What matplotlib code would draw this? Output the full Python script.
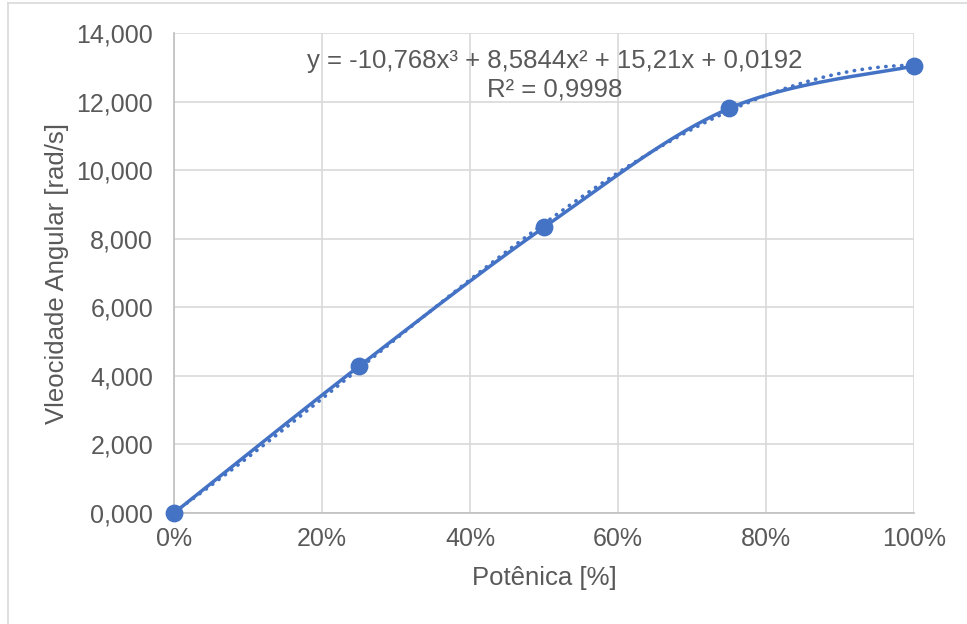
import numpy as np
import matplotlib.pyplot as plt
from matplotlib.ticker import FuncFormatter

potencia = [0.0, 0.25, 0.50, 0.75, 1.00]
velocidade = [0.0, 4.28, 8.33, 11.80, 13.04]
eq_label = "y = -10,768x³ + 8,5844x² + 15,21x + 0,0192"
r2_label = "R² = 0,9998"

plt.rcParams['font.family'] = ['Liberation Sans', 'DejaVu Sans']
blue = "#4472C4"
grey = "#595959"


def smooth(xs, ys, n=40):
    # excel-like smoothed line (catmull-rom through the points)
    xs, ys = np.asarray(xs), np.asarray(ys)
    px = np.concatenate([[xs[0]], xs, [xs[-1]]])
    py = np.concatenate([[ys[0]], ys, [ys[-1]]])
    out_x, out_y = [], []
    t = np.linspace(0, 1, n)
    for i in range(1, len(px) - 2):
        p0, p1, p2, p3 = [np.array([px[j], py[j]]) for j in (i - 1, i, i + 1, i + 2)]
        c1 = p1 + (p2 - p0) / 6
        c2 = p2 - (p3 - p1) / 6
        b = ((1 - t) ** 3)[:, None] * p1 + (3 * (1 - t) ** 2 * t)[:, None] * c1 \
            + (3 * (1 - t) * t ** 2)[:, None] * c2 + (t ** 3)[:, None] * p2
        out_x.extend(b[:, 0])
        out_y.extend(b[:, 1])
    return out_x, out_y


fig = plt.figure(figsize=(9.67, 6.24), dpi=100)
ax = fig.add_axes([174 / 967, 1 - 513 / 624, 740 / 967, 480 / 624])

# chart border (left and top visible)
fig.add_artist(plt.Line2D([8 / 967, 8 / 967], [0, 1 - 3 / 624], color="#D9D9D9", lw=1.2))
fig.add_artist(plt.Line2D([8 / 967, 1], [1 - 3 / 624, 1 - 3 / 624], color="#D9D9D9", lw=1.2))

sx, sy = smooth(potencia, velocidade)
ax.plot(sx, sy, color=blue, lw=2.5, zorder=3)
ax.scatter(potencia, velocidade, s=140, color=blue, zorder=4, clip_on=False)

coef = np.polyfit(potencia, velocidade, 3)
tx = np.linspace(0, 1, 200)
ax.plot(tx, np.polyval(coef, tx), color=blue, lw=2.6, linestyle=(0, (0.1, 2.1)),
        dash_capstyle="round", zorder=2)

ax.set_xlim(0, 1)
ax.set_ylim(0, 14)
ax.set_xticks(np.arange(0, 1.01, 0.2))
ax.set_yticks(np.arange(0, 14.1, 2))
ax.xaxis.set_major_formatter(FuncFormatter(lambda v, p: f"{v * 100:.0f}%"))
ax.yaxis.set_major_formatter(FuncFormatter(lambda v, p: f"{v:,.3f}".replace(".", ",")))
ax.grid(True, color="#D9D9D9", lw=1.2)
ax.set_axisbelow(True)
for s in ["top", "right"]:
    ax.spines[s].set_visible(False)
for s in ["left", "bottom"]:
    ax.spines[s].set_color("#BFBFBF")
    ax.spines[s].set_linewidth(1.2)
ax.tick_params(length=0, labelsize=18, colors=grey)
ax.tick_params(axis="x", pad=10)
ax.tick_params(axis="y", pad=15)

ax.set_xlabel("Potênica [%]", fontsize=18.5, color=grey, va="center")
ax.set_ylabel("Vleocidade Angular [rad/s]", fontsize=18.5, color=grey, va="center")
ax.xaxis.set_label_coords(0.5, (513 - 578) / 480)
ax.yaxis.set_label_coords((57 - 174) / 740, 0.5)

ax.text(0.515, 13.18, eq_label, fontsize=18.5, color=grey, ha="center", va="center")
ax.text(0.515, 12.36, r2_label, fontsize=18.5, color=grey, ha="center", va="center")

fig.savefig("out.png", dpi=100, facecolor="white")
